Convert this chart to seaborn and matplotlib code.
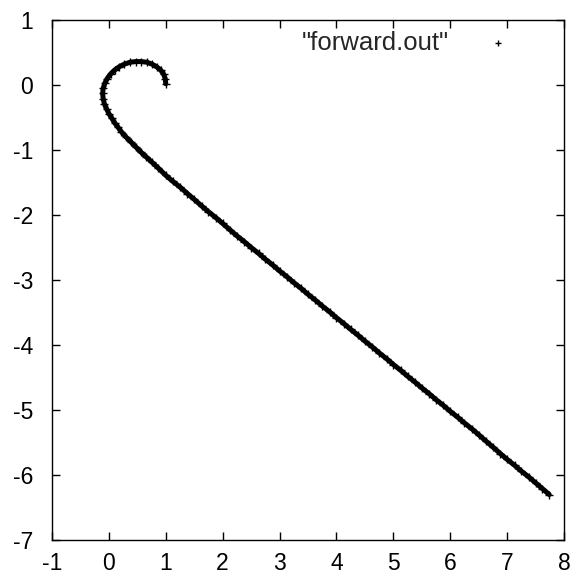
import matplotlib
matplotlib.use("Agg")
import matplotlib.pyplot as plt
import seaborn as sns
import pandas as pd

# trajectory
xs = [1.00, 0.99, 0.96, 0.91, 0.84, 0.76, 0.67, 0.57, 0.47, 0.37, 0.27, 0.18,
      0.10, 0.03, -0.03, -0.07, -0.10, -0.11, -0.10, -0.08, -0.04, 0.00, 0.05,
      0.10, 0.16, 0.22, 0.30, 0.38, 0.47, 0.56, 0.66, 0.76, 0.87, 1.00, 1.12,
      1.25, 1.38, 1.50, 1.63, 1.75, 1.88, 2.00, 2.13, 2.25, 2.38, 2.50, 2.63,
      2.75, 2.88, 3.00, 3.13, 3.25, 3.38, 3.50, 3.63, 3.75, 3.88, 4.00, 4.13,
      4.25, 4.38, 4.50, 4.63, 4.75, 4.88, 5.00, 5.13, 5.25, 5.38, 5.50, 5.63,
      5.75, 5.88, 6.00, 6.13, 6.25, 6.38, 6.50, 6.63, 6.75, 6.88, 7.00, 7.13,
      7.25, 7.38, 7.50, 7.62, 7.74]
ys = [0.02, 0.10, 0.17, 0.23, 0.28, 0.32, 0.35, 0.36, 0.36, 0.35, 0.32, 0.28,
      0.23, 0.17, 0.10, 0.03, -0.05, -0.13, -0.21, -0.29, -0.37, -0.44, -0.51,
      -0.58, -0.65, -0.72, -0.80, -0.87, -0.95, -1.03, -1.11, -1.19, -1.28,
      -1.39, -1.48, -1.57, -1.67, -1.76, -1.86, -1.95, -2.04, -2.13, -2.23,
      -2.32, -2.41, -2.50, -2.59, -2.68, -2.77, -2.86, -2.95, -3.04, -3.13,
      -3.22, -3.31, -3.40, -3.49, -3.58, -3.67, -3.76, -3.85, -3.94, -4.03,
      -4.12, -4.21, -4.30, -4.39, -4.48, -4.57, -4.66, -4.75, -4.84, -4.93,
      -5.02, -5.11, -5.20, -5.29, -5.38, -5.48, -5.57, -5.67, -5.76, -5.85,
      -5.94, -6.03, -6.12, -6.21, -6.30]

x_ticks = [-1, 0, 1, 2, 3, 4, 5, 6, 7, 8]
y_ticks = [-7, -6, -5, -4, -3, -2, -1, 0, 1]
series_label = '"forward.out"'

df = pd.DataFrame({"x": xs, "y": ys})

sns.set_theme(style="white")
plt.rcParams["font.family"] = ["Liberation Sans", "DejaVu Sans"]

fig = plt.figure(figsize=(5.72, 5.80), dpi=100)
ax = fig.add_axes([52 / 572, 40 / 580, 512 / 572, 520 / 580])

sns.lineplot(data=df, x="x", y="y", sort=False, estimator=None, ax=ax,
             color="black", linewidth=3.6, legend=False)
sns.scatterplot(data=df, x="x", y="y", ax=ax, marker="+", s=36,
                color="black", linewidth=1.0, label=series_label)

ax.set_xlim(-1, 8)
ax.set_ylim(-7, 1)
ax.set_xticks(x_ticks)
ax.set_yticks(y_ticks)
ax.set_xticklabels([str(t) for t in x_ticks])
ax.set_yticklabels([str(t) for t in y_ticks])
ax.set_xlabel("")
ax.set_ylabel("")

for s in ax.spines.values():
    s.set_visible(True)
    s.set_color("black")
    s.set_linewidth(1.0)

ax.tick_params(axis="both", which="major", direction="in", length=6,
               width=1.0, color="black", labelsize=16.5, labelcolor="black",
               top=True, right=True, bottom=True, left=True)
ax.tick_params(axis="x", pad=9)
ax.tick_params(axis="y", pad=13.5)

leg = ax.legend(loc="center right", bbox_to_anchor=(0.896, 0.956),
                frameon=False, markerfirst=False, handlelength=1.0,
                handletextpad=1.4, borderpad=0, borderaxespad=0,
                fontsize=18.5, markerscale=0.7)

fig.savefig("out.png", dpi=100, facecolor="white")
